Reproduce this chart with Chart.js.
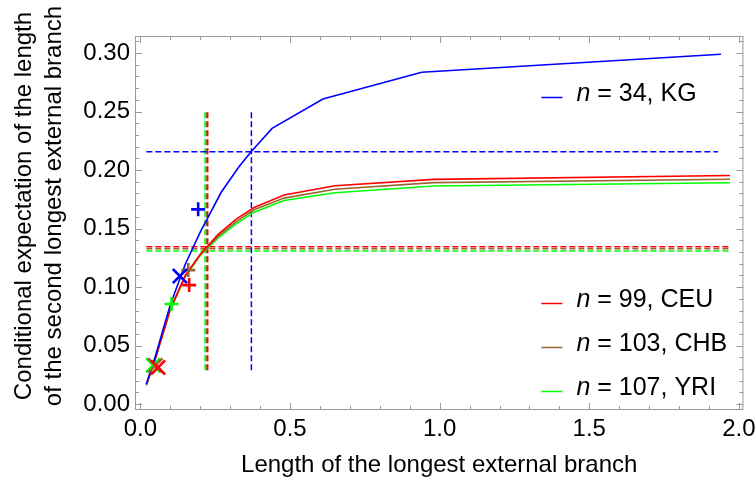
<!DOCTYPE html>
<html>
<head>
<meta charset="utf-8">
<script src="https://cdn.jsdelivr.net/npm/chart.js@4.4.0/dist/chart.umd.min.js"></script>
<style>
  html, body { margin: 0; padding: 0; background: #fff; }
</style>
</head>
<body>
<canvas id="plot" width="756" height="478"></canvas>
<script>
// conditional expectation curves
const kgX = [0.02, 0.05, 0.10, 0.15, 0.20, 0.27, 0.33, 0.37, 0.44, 0.61, 0.94, 1.94];
const kgY = [0.017, 0.041, 0.085, 0.1195, 0.147, 0.181, 0.203, 0.2156, 0.2356, 0.2607, 0.2835, 0.2989];
const popX = [0.02, 0.05, 0.10, 0.15, 0.20, 0.26, 0.32, 0.38, 0.48, 0.65, 0.98, 1.97];
const ceuY = [0.017, 0.039, 0.081, 0.110, 0.128, 0.145, 0.158, 0.168, 0.1786, 0.1866, 0.1920, 0.1953];
const chbY = [0.0165, 0.039, 0.081, 0.1095, 0.1275, 0.1435, 0.156, 0.166, 0.176, 0.1836, 0.1892, 0.1921];
const yriY = [0.016, 0.039, 0.081, 0.109, 0.127, 0.142, 0.154, 0.164, 0.174, 0.1806, 0.1863, 0.1891];

// medians (dashed guides): [x, y]
const kgMedian = [0.371, 0.2156];
const ceuMedian = [0.225, 0.1345];
const chbMedian = [0.221, 0.1327];
const yriMedian = [0.216, 0.1308];
const guideXStart = 0.02;
const kgGuideXEnd = 1.93;
const popGuideXEnd = 1.975;
const guideYRange = [0.029, 0.251];

// observed values: "+" and "x" markers, [x, y]
const kgPlus = [0.193, 0.1664], kgCross = [0.132, 0.1094];
const ceuPlus = [0.163, 0.1017], ceuCross = [0.059, 0.0314];
const chbPlus = [0.160, 0.1145], chbCross = [0.050, 0.0330];
const yriPlus = [0.104, 0.0855], yriCross = [0.043, 0.0333];

const xTicks = [0, 0.5, 1.0, 1.5, 2.0];
const yTicks = [0, 0.05, 0.10, 0.15, 0.20, 0.25, 0.30];
const legendLabels = ['34, KG', '99, CEU', '103, CHB', '107, YRI'];
const xTitle = 'Length of the longest external branch';
const yTitle = ['Conditional expectation of the length', 'of the second longest external branch'];

const BLUE = '#0000ff', RED = '#ff0000', BROWN = '#996633', GREEN = '#00ff00';
const FONT = "'Liberation Sans', Arial, sans-serif";

function curve(xs, ys, color) {
  return {
    data: xs.map((x, i) => ({ x: x, y: ys[i] })),
    showLine: true, borderColor: color, borderWidth: 1.6,
    pointRadius: 0, tension: 0, fill: false
  };
}

function guide(points, color) {
  return {
    data: points.map(p => ({ x: p[0], y: p[1] })),
    showLine: true, borderColor: color, borderWidth: 1.5,
    borderDash: [6, 3], pointRadius: 0, fill: false
  };
}

function marker(p, color, style) {
  return {
    data: [{ x: p[0], y: p[1] }],
    showLine: false, pointStyle: style,
    pointRadius: style === 'cross' ? 7 : 10,
    borderColor: color, backgroundColor: color, borderWidth: 2.6
  };
}

function medianGuides(m, xEnd, color) {
  return [
    guide([[guideXStart, m[1]], [xEnd, m[1]]], color),
    guide([[m[0], guideYRange[0]], [m[0], guideYRange[1]]], color)
  ];
}

// first dataset is drawn on top
const datasets = [
  marker(kgPlus, BLUE, 'cross'), marker(kgCross, BLUE, 'crossRot'),
  marker(ceuPlus, RED, 'cross'), marker(ceuCross, RED, 'crossRot'),
  marker(chbPlus, BROWN, 'cross'), marker(chbCross, BROWN, 'crossRot'),
  marker(yriPlus, GREEN, 'cross'), marker(yriCross, GREEN, 'crossRot'),
  curve(kgX, kgY, BLUE),
  curve(popX, ceuY, RED),
  curve(popX, chbY, BROWN),
  curve(popX, yriY, GREEN),
  ...medianGuides(kgMedian, kgGuideXEnd, BLUE),
  ...medianGuides(ceuMedian, popGuideXEnd, RED),
  ...medianGuides(chbMedian, popGuideXEnd, BROWN),
  ...medianGuides(yriMedian, popGuideXEnd, GREEN)
];

// Mathematica-like frame with inward ticks on all four sides, plus axis titles
const framePlugin = {
  id: 'frame',
  afterDraw(chart) {
    const { ctx, chartArea: a, scales } = chart;
    const xs = scales.x, ys = scales.y;
    ctx.save();
    ctx.strokeStyle = '#9a9a9a';
    ctx.lineWidth = 1;
    ctx.strokeRect(a.left + 0.5, a.top + 0.5, a.right - a.left - 1, a.bottom - a.top - 1);
    ctx.beginPath();
    for (let i = 0; i <= 20; i++) {
      const px = Math.round(xs.getPixelForValue(i / 10)) + 0.5;
      const len = i % 5 === 0 ? 7 : 4;
      ctx.moveTo(px, a.bottom); ctx.lineTo(px, a.bottom - len);
      ctx.moveTo(px, a.top); ctx.lineTo(px, a.top + len);
    }
    for (let i = 0; i <= 31; i++) {
      const py = Math.round(ys.getPixelForValue(i / 100)) + 0.5;
      const len = i % 5 === 0 ? 7 : 4;
      ctx.moveTo(a.left, py); ctx.lineTo(a.left + len, py);
      ctx.moveTo(a.right, py); ctx.lineTo(a.right - len, py);
    }
    ctx.stroke();

    ctx.fillStyle = '#000';
    ctx.font = '24px ' + FONT;
    ctx.textAlign = 'center';
    ctx.textBaseline = 'middle';
    ctx.fillText(xTitle, (a.left + a.right) / 2, 465);
    ctx.translate(0, (a.top + a.bottom) / 2 - 17);
    ctx.rotate(-Math.PI / 2);
    ctx.fillText(yTitle[0], 0, 24);
    ctx.fillText(yTitle[1], 0, 54);
    ctx.restore();
  }
};

// legend with italic "n"
const legendPlugin = {
  id: 'nLegend',
  afterDatasetsDraw(chart) {
    const { ctx, chartArea: a } = chart;
    const colors = [BLUE, RED, BROWN, GREEN];
    const rows = [a.top + 61, a.bottom - 107, a.bottom - 63, a.bottom - 19];
    const x0 = a.right - 202;
    ctx.save();
    rows.forEach((y, i) => {
      ctx.strokeStyle = colors[i];
      ctx.lineWidth = 1.5;
      ctx.beginPath();
      ctx.moveTo(x0, y + 0.5); ctx.lineTo(x0 + 21, y + 0.5);
      ctx.stroke();
      ctx.fillStyle = '#000';
      ctx.textBaseline = 'alphabetic';
      ctx.font = 'italic 25px ' + FONT;
      ctx.fillText('n', x0 + 35, y + 4);
      const w = ctx.measureText('n').width;
      ctx.font = '25px ' + FONT;
      ctx.fillText(' = ' + legendLabels[i], x0 + 35 + w, y + 4);
    });
    ctx.restore();
  }
};

Chart.defaults.font.family = FONT;
Chart.defaults.color = '#000';

new Chart(document.getElementById('plot'), {
  type: 'scatter',
  data: { datasets: datasets },
  options: {
    responsive: false,
    animation: false,
    devicePixelRatio: 1,
    layout: { padding: { top: 36, right: 12, left: 0, bottom: 0 } },
    plugins: { legend: { display: false }, tooltip: { enabled: false } },
    scales: {
      x: {
        type: 'linear', min: -0.018, max: 2.015,
        grid: { display: false, drawTicks: false },
        border: { display: false },
        afterBuildTicks: s => { s.ticks = xTicks.map(v => ({ value: v })); },
        afterFit: s => { s.height = 68; s.paddingLeft = 0; s.paddingRight = 0; },
        ticks: { padding: 5, font: { size: 24 }, callback: v => v.toFixed(1) }
      },
      y: {
        type: 'linear', min: -0.005, max: 0.3145,
        grid: { display: false, drawTicks: false },
        border: { display: false },
        afterBuildTicks: s => { s.ticks = yTicks.map(v => ({ value: v })); },
        afterFit: s => { s.width = 135; s.paddingTop = 0; s.paddingBottom = 0; },
        ticks: { padding: 5, font: { size: 24 }, callback: v => v.toFixed(2) }
      }
    }
  },
  plugins: [framePlugin, legendPlugin]
});
</script>
</body>
</html>
